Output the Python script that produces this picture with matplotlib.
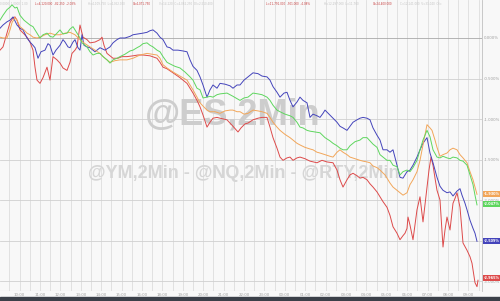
import numpy as np
import matplotlib
matplotlib.use("Agg")
import matplotlib.pyplot as plt
from matplotlib.patches import Rectangle
import matplotlib.transforms as mtransforms

# 2-min bars, % change from reference
ym_x = [0, 3, 7, 10, 13, 17, 20, 23, 27, 30, 33, 35, 38, 41, 45, 48, 50, 53, 56, 60, 63, 65, 68, 70, 73, 75, 78, 80, 82, 84,
        87, 90, 95, 100, 105, 110, 113, 117, 120, 125, 130, 133, 138, 143, 147, 150, 153, 157, 160, 163, 167, 170, 173, 178,
        183, 187, 190, 193, 197, 200, 203, 207, 210, 213, 217, 220, 225, 230, 233, 237, 240, 244, 248, 253, 258, 262, 267,
        270, 273, 277, 280, 284, 287, 290, 293, 297, 300, 303, 307, 310, 313, 317, 320, 323, 325, 329, 333, 337, 340, 343,
        347, 350, 353, 357, 360, 363, 367, 370, 373, 377, 380, 383, 387, 390, 393, 397, 400, 403, 407, 410, 413, 417, 420,
        423, 427, 430, 433, 437, 440, 443, 447, 450, 453, 457, 460, 462, 465, 467, 470, 473, 475, 477]
ym_y = [0.12, 0.16, 0.20, 0.22, 0.26, 0.16, 0.12, 0.10, 0.00, -0.05, -0.09, -0.12, -0.25, -0.17, -0.15, -0.07, -0.09, -0.21,
        -0.15, -0.09, -0.02, -0.05, -0.11, -0.12, -0.05, -0.02, -0.12, -0.15, 0.04, -0.09, -0.11, -0.12, -0.17, -0.12, -0.15,
        -0.11, -0.06, -0.02, 0.00, 0.00, 0.02, 0.04, 0.05, 0.06, 0.07, 0.09, 0.10, 0.06, 0.01, -0.02, -0.11, -0.12, -0.15,
        -0.15, -0.16, -0.17, -0.27, -0.35, -0.40, -0.48, -0.58, -0.73, -0.64, -0.58, -0.62, -0.56, -0.57, -0.59, -0.62, -0.58,
        -0.58, -0.52, -0.48, -0.43, -0.44, -0.47, -0.48, -0.52, -0.60, -0.67, -0.73, -0.68, -0.67, -0.77, -0.85, -0.79, -0.73,
        -0.77, -0.80, -0.98, -0.94, -0.96, -0.98, -0.93, -0.89, -0.94, -0.99, -1.04, -1.09, -1.11, -1.14, -1.09, -1.04, -1.01,
        -0.99, -0.98, -0.99, -1.01, -1.11, -1.20, -1.26, -1.38, -1.38, -1.41, -1.38, -1.57, -1.72, -1.73, -1.65, -1.63, -1.57,
        -1.47, -1.38, -1.30, -1.23, -1.42, -1.54, -1.72, -1.83, -1.88, -1.91, -1.90, -1.95, -1.89, -1.86, -1.94, -2.04, -2.12,
        -2.25, -2.35, -2.41, -2.51]

es_x = [0, 3, 7, 10, 12, 15, 17, 20, 24, 27, 30, 33, 37, 40, 43, 47, 50, 53, 57, 60, 63, 67, 70, 73, 75, 77, 80, 82, 85, 87,
        90, 93, 97, 100, 103, 107, 110, 113, 117, 120, 125, 130, 133, 137, 140, 143, 147, 150, 153, 157, 160, 163, 167, 170,
        175, 180, 185, 190, 193, 197, 200, 203, 207, 210, 213, 217, 220, 227, 233, 240, 244, 248, 253, 258, 262, 267, 270,
        273, 277, 280, 285, 290, 293, 297, 300, 303, 307, 310, 315, 320, 325, 330, 333, 337, 340, 343, 347, 350, 355, 360,
        363, 367, 370, 373, 377, 380, 383, 387, 390, 393, 397, 400, 403, 407, 410, 413, 417, 420, 423, 427, 430, 433, 437,
        440, 443, 447, 450, 453, 457, 460, 463, 467, 470, 473, 475, 477]
es_y = [0.22, 0.28, 0.35, 0.38, 0.41, 0.37, 0.38, 0.28, 0.22, 0.19, 0.16, 0.14, 0.06, 0.00, 0.04, 0.06, 0.02, 0.01, 0.06,
        0.10, 0.05, 0.06, 0.11, 0.14, 0.10, 0.06, 0.00, -0.06, -0.09, -0.11, -0.17, -0.21, -0.19, -0.19, -0.23, -0.27, -0.31,
        -0.27, -0.25, -0.23, -0.20, -0.16, -0.15, -0.12, -0.10, -0.07, -0.06, -0.09, -0.11, -0.15, -0.17, -0.23, -0.30, -0.32,
        -0.35, -0.37, -0.42, -0.48, -0.52, -0.62, -0.64, -0.74, -0.73, -0.72, -0.73, -0.70, -0.69, -0.68, -0.72, -0.77, -0.74,
        -0.73, -0.68, -0.69, -0.70, -0.73, -0.77, -0.83, -0.89, -0.91, -0.94, -0.96, -0.98, -1.04, -1.10, -1.11, -1.14, -1.15,
        -1.16, -1.17, -1.23, -1.27, -1.30, -1.33, -1.36, -1.38, -1.38, -1.33, -1.28, -1.26, -1.23, -1.23, -1.27, -1.31, -1.35,
        -1.44, -1.47, -1.51, -1.51, -1.57, -1.59, -1.69, -1.65, -1.63, -1.65, -1.60, -1.51, -1.38, -1.26, -1.14, -1.22, -1.38,
        -1.47, -1.48, -1.46, -1.48, -1.49, -1.47, -1.48, -1.51, -1.52, -1.57, -1.69, -1.81, -1.94, -2.06]

rty_x = [0, 3, 7, 10, 12, 15, 17, 20, 24, 27, 30, 33, 37, 40, 45, 50, 55, 60, 65, 70, 75, 80, 85, 90, 95, 100, 105, 110, 115,
         120, 127, 133, 140, 147, 152, 157, 160, 163, 167, 173, 180, 187, 190, 193, 197, 200, 203, 207, 210, 215, 220, 225,
         230, 233, 237, 240, 244, 248, 253, 258, 262, 267, 270, 273, 277, 280, 285, 290, 293, 297, 300, 305, 310, 313, 317,
         320, 325, 330, 333, 337, 340, 343, 347, 350, 355, 360, 363, 367, 370, 373, 377, 380, 385, 390, 393, 397, 400, 403,
         407, 410, 413, 417, 420, 423, 427, 430, 432, 435, 437, 440, 443, 447, 450, 453, 457, 460, 463, 467, 470, 473, 475, 477]
rty_y = [0.01, 0.00, 0.00, 0.10, 0.19, 0.25, 0.22, 0.14, 0.10, 0.06, 0.04, 0.01, 0.00, 0.01, 0.04, 0.06, 0.04, 0.04, 0.06,
         0.07, 0.04, -0.02, -0.07, -0.11, -0.15, -0.19, -0.25, -0.30, -0.28, -0.27, -0.27, -0.25, -0.21, -0.19, -0.20, -0.21,
         -0.25, -0.33, -0.37, -0.42, -0.47, -0.52, -0.58, -0.64, -0.73, -0.80, -0.84, -0.89, -0.91, -0.91, -0.93, -0.90, -0.89,
         -0.89, -0.91, -0.91, -0.94, -0.93, -0.89, -0.90, -0.91, -0.93, -0.98, -1.04, -1.10, -1.14, -1.19, -1.23, -1.26, -1.30,
         -1.32, -1.35, -1.37, -1.38, -1.41, -1.42, -1.44, -1.46, -1.47, -1.41, -1.38, -1.41, -1.44, -1.47, -1.49, -1.51, -1.52,
         -1.53, -1.54, -1.58, -1.60, -1.63, -1.69, -1.79, -1.84, -1.88, -1.91, -1.94, -1.91, -1.81, -1.75, -1.65, -1.51, -1.32,
         -1.07, -1.11, -1.14, -1.26, -1.35, -1.46, -1.44, -1.42, -1.38, -1.36, -1.38, -1.44, -1.48, -1.54, -1.65, -1.75, -1.84,
         -1.93]

nq_x = [0, 3, 7, 10, 13, 15, 17, 20, 24, 27, 30, 33, 35, 37, 40, 43, 47, 50, 53, 57, 60, 63, 67, 70, 72, 75, 77, 80, 83, 87,
        90, 95, 100, 102, 104, 107, 110, 113, 118, 122, 127, 133, 138, 143, 150, 157, 160, 163, 167, 173, 180, 187, 190, 193,
        197, 200, 203, 207, 210, 213, 217, 220, 227, 233, 238, 241, 245, 248, 253, 258, 262, 267, 270, 273, 277, 280, 283,
        287, 290, 293, 297, 300, 305, 310, 317, 322, 327, 333, 337, 340, 343, 347, 350, 353, 357, 360, 363, 367, 370, 373,
        377, 380, 383, 387, 390, 393, 397, 400, 403, 405, 407, 408, 410, 413, 415, 417, 420, 423, 425, 427, 429, 431, 433,
        435, 437, 440, 443, 445, 447, 450, 453, 455, 457, 460, 463, 467, 470, 472, 475, 477, 478]
nq_y = [-0.15, -0.11, 0.06, 0.19, 0.25, 0.26, 0.22, 0.10, 0.05, 0.01, -0.05, -0.15, -0.36, -0.52, -0.56, -0.49, -0.36, -0.52,
        -0.23, -0.27, -0.31, -0.37, -0.40, -0.30, -0.19, -0.15, -0.11, 0.16, 0.01, -0.02, -0.06, -0.05, -0.02, 0.01, -0.09,
        -0.19, -0.22, -0.25, -0.25, -0.23, -0.23, -0.22, -0.21, -0.21, -0.22, -0.25, -0.30, -0.36, -0.38, -0.43, -0.49, -0.56,
        -0.62, -0.68, -0.77, -0.85, -0.95, -1.10, -1.04, -0.99, -0.98, -0.99, -1.01, -1.09, -1.16, -1.11, -1.06, -1.05, -1.01,
        -0.99, -0.98, -0.98, -1.10, -1.23, -1.36, -1.47, -1.51, -1.48, -1.47, -1.51, -1.48, -1.47, -1.49, -1.52, -1.54, -1.51,
        -1.53, -1.54, -1.63, -1.75, -1.84, -1.75, -1.69, -1.67, -1.70, -1.73, -1.72, -1.75, -1.80, -1.84, -1.90, -1.96, -2.02,
        -2.09, -2.19, -2.33, -2.41, -2.49, -2.44, -2.41, -2.35, -2.21, -2.31, -2.49, -2.31, -2.12, -1.96, -2.27, -2.06, -1.84,
        -1.63, -1.47, -1.57, -1.73, -1.88, -2.00, -2.58, -2.37, -2.21, -2.37, -2.04, -1.98, -1.91, -2.09, -2.53, -2.62, -2.70,
        -2.78, -3.02, -3.07, -2.99]

last_labels = {"rty": "-1.930%", "es": "-2.047%", "ym": "-2.509%", "nq": "-2.965%"}
last_vals = {"rty": -1.93, "es": -2.047, "ym": -2.509, "nq": -2.965}

y_ticks = [0.0, -0.5, -1.0, -1.5, -2.0, -2.5, -3.0]
x_labels = ["10:00", "11:00", "12:00", "13:00", "14:00", "15:00", "16:00", "18:00", "19:00", "20:00", "21:00", "22:00",
            "23:00", "00:00", "01:00", "02:00", "03:00", "04:00", "05:00", "06:00", "07:00", "08:00", "09:00"]

colors = {"ym": "#4444bb", "es": "#5ed65e", "rty": "#f2a659", "nq": "#dd4a4a"}
bg = "#f8f8f8"

fig = plt.figure(figsize=(5, 3.01), dpi=100, facecolor=bg)
ax = fig.add_axes([0, 10 / 301, 482 / 500, 291 / 301])
ax.set_facecolor(bg)
ax.set_xlim(0, 482)
ax.set_ylim(-3.123, 0.469)

# grid
for gx in np.arange(9.4, 482, 10.2):
    ax.axvline(gx, color="#dddddd", lw=0.6, zorder=0)
for gy in y_ticks:
    ax.axhline(gy, color="#a8a8a8" if gy == 0 else "#d0d0d0", lw=0.6, zorder=0)
ax.axhline(-3.123, color="#c8c8c8", lw=0.8)

for s in ax.spines.values():
    s.set_visible(False)
ax.spines["right"].set_visible(True)
ax.spines["right"].set_color("#c0c0c0")
ax.spines["right"].set_linewidth(0.6)

# watermark
ax.text(0.482, 0.605, "@ES,2Min", transform=ax.transAxes, ha="center", va="center", fontsize=26,
        fontweight="bold", family="Liberation Sans", color="#cdcdcd", zorder=1)
ax.text(0.505, 0.405, "@YM,2Min - @NQ,2Min - @RTY,2Min", transform=ax.transAxes, ha="center", va="center",
        fontsize=13, fontweight="bold", family="Liberation Sans", color="#d6d6d6", zorder=1)

# series
ax.plot(ym_x, ym_y, color=colors["ym"], lw=0.7, zorder=3)
ax.plot(rty_x, rty_y, color=colors["rty"], lw=0.7, zorder=3)
ax.plot(es_x, es_y, color=colors["es"], lw=0.7, zorder=4)
ax.plot(nq_x, nq_y, color=colors["nq"], lw=0.7, zorder=2)

# axes ticks
ax.yaxis.tick_right()
ax.set_yticks(y_ticks)
ax.set_yticklabels(["%.3f%%" % v for v in y_ticks])
ax.tick_params(axis="y", length=0, pad=1.5, labelsize=2.8, labelcolor="#a0a0a0")
ax.set_xticks(np.arange(19.6, 482, 20.4)[:len(x_labels)])
ax.set_xticklabels(x_labels)
ax.tick_params(axis="x", length=0, pad=1.5, labelsize=2.8, labelcolor="#a0a0a0")

# last value boxes
trans = mtransforms.blended_transform_factory(ax.transAxes, ax.transData)
for k in ["rty", "es", "ym", "nq"]:
    ax.text(1.004, last_vals[k], last_labels[k], transform=trans, ha="left", va="center", fontsize=2.5,
            color="white", fontweight="bold",
            bbox=dict(boxstyle="square,pad=0.3", fc=colors[k], ec="none"), clip_on=False, zorder=6)

# header line
hdr = [(0.0, "0.0000  1.0000  1.00", "#c4c4c4"),
       (0.073, "L=4,120.000  -82.250  -2.03%", "#c84040"),
       (0.183, "H=4,109.750  L=4,052.000", "#c4c4c4"),
       (0.276, "O=4,071.750", "#c84040"),
       (0.33, "V=14,120  C=4,062.250  OI=2,510,400", "#c4c4c4"),
       (0.552, "L=11,791.000  -501.000  -4.08%", "#c84040"),
       (0.672, "H=12,297.000  L=11,760", "#c4c4c4"),
       (0.774, "O=24,400.000", "#c84040"),
       (0.83, "C=12,141.000  V=31,040  OI=", "#c4c4c4")]
for hx, ht, hc in hdr:
    ax.text(hx, 0.986, ht, transform=ax.transAxes, ha="left", va="center", fontsize=2.0, color=hc, zorder=5)

# dark footer strip
fig.patches.append(Rectangle((0, 0), 1, 4 / 301, transform=fig.transFigure, color="#3b4049", zorder=10))

fig.savefig("out.png", dpi=100, facecolor=bg)
